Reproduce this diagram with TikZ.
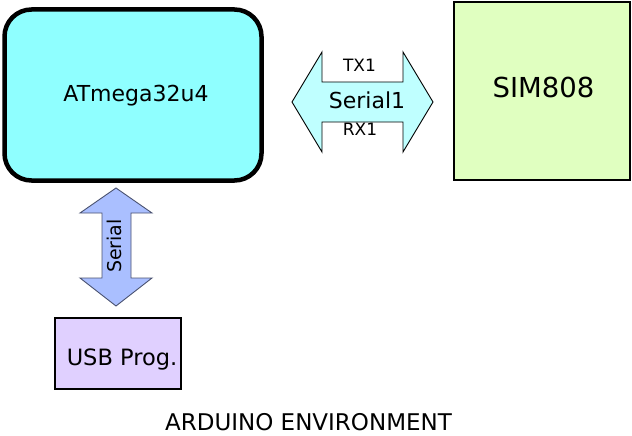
\documentclass[tikz,border=0pt]{standalone}
\usepackage{fontspec}
\setmainfont{DejaVu Sans}
\begin{document}
\begin{tikzpicture}[x=1pt,y=-1pt,
  box/.style={draw=black,inner sep=0pt,outer sep=0pt},
  lbl/.style={anchor=base,inner sep=0pt,text=black},
  fat/.style={draw=black,line width=0.9pt,line join=miter}]
\useasboundingbox (0,0) rectangle (632,436);
\definecolor{atmfill}{HTML}{8FFFFF}
\definecolor{simfill}{HTML}{E0FFC0}
\definecolor{usbfill}{HTML}{E0D0FF}
\definecolor{serfill}{HTML}{BFFFFF}
\definecolor{vfill}{HTML}{AABFFF}
\definecolor{vline}{HTML}{4A5270}
% boxes
\node[box,line width=4.5pt,rounded corners=27pt,fill=atmfill,minimum width=257pt,minimum height=171pt] (atm) at (133,95) {};
\node[box,line width=2pt,fill=simfill,minimum width=176.5pt,minimum height=177.5pt] (sim) at (541.75,90.75) {};
\node[box,line width=2.5pt,fill=usbfill,minimum width=126pt,minimum height=71pt] (usb) at (118,353.5) {};
% horizontal double arrow
\coordinate (hl) at (292,102);
\coordinate (hr) at (433,102);
\filldraw[fat,fill=serfill] (hl) -- (322,52) -- (322,82) -- (403,82) -- (403,52) -- (hr)
  -- (403,152) -- (403,122) -- (322,122) -- (322,152) -- cycle;
% vertical double arrow
\coordinate (vt) at (116,188);
\coordinate (vb) at (116,306);
\filldraw[fat,draw=vline,fill=vfill] (vt) -- (152,213) -- (131,213) -- (131,278) -- (152,278) -- (vb)
  -- (80,278) -- (102,278) -- (102,213) -- (80,213) -- cycle;
% texts
\node[lbl,font=\fontsize{22}{26}\selectfont] (tatm) at (136,101) {ATmega32u4};
\node[lbl,font=\fontsize{27.5}{32}\selectfont] (tsim) at (543.5,98) {SIM808};
\node[lbl,font=\fontsize{22.5}{26}\selectfont] (tusb) at (122,365) {USB Prog.};
\node[lbl,font=\fontsize{22}{25}\selectfont] (tser1) at (367,108) {Serial1};
\node[lbl,font=\fontsize{17}{20}\selectfont] (ttx) at (359.5,72) {TX1};
\node[lbl,font=\fontsize{17}{20}\selectfont] (trx) at (360,135) {RX1};
\node[anchor=base,inner sep=0pt,rotate=90,font=\fontsize{19}{22}\selectfont] (tser) at (121.5,246) {Serial};
\node[lbl,font=\fontsize{23}{27}\selectfont] (tard) at (308.5,430) {ARDUINO ENVIRONMENT};
\end{tikzpicture}
\end{document}
